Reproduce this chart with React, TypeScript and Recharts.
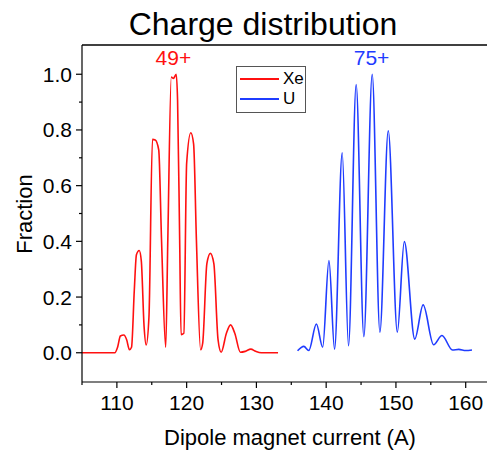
import { Legend, Line, LineChart, ReferenceDot, ReferenceLine, XAxis, YAxis } from "recharts";

const FONT = "Arial, 'Liberation Sans', sans-serif";
const RED = "#ff1010";
const BLUE = "#1f3cff";

// Xe scan
const xeCurrent = [
  105, 109.7, 110.1, 110.5, 111.0, 111.4, 111.8, 112.1, 112.5, 112.8, 113.2, 113.5, 113.9, 114.2,
  114.6, 115.1, 115.5, 116.0, 116.4, 117.0, 117.3, 117.8, 118.1, 118.5, 118.7, 119.0, 119.2, 119.6,
  120.0, 120.6, 121.0, 121.4, 122.0, 122.3, 122.9, 123.4, 123.9, 124.5, 124.95, 125.7, 126.3, 126.9,
  127.7, 128.4, 129.2, 129.9, 130.7, 133.1,
];
const xeFraction = [
  0, 0, 0.02, 0.06, 0.064, 0.047, 0.011, 0.02, 0.226, 0.352, 0.367, 0.33, 0.094, 0.028,
  0.13, 0.766, 0.764, 0.728, 0.405, 0.02, 0.405, 0.99, 0.985, 1.0, 0.906, 0.405, 0.065, 0.07,
  0.68, 0.79, 0.749, 0.405, 0.011, 0.035, 0.32, 0.357, 0.32, 0.047, 0.002, 0.07, 0.1, 0.07,
  0.002, 0.005, 0.013, 0.005, 0, 0,
];

// U scan
const uCurrent = [
  135.9, 136.8, 137.5, 138.6, 139.5, 140.4, 141.2, 142.3, 143.2, 144.3, 145.4, 146.6, 147.7, 148.9,
  150.2, 151.2, 152.7, 153.9, 155.4, 156.6, 158.1, 159.0, 160.0, 160.9,
];
const uFraction = [
  0.007, 0.023, 0.008, 0.103, 0.02, 0.331, 0.013, 0.718, 0.025, 0.963, 0.058, 1.0, 0.074, 0.797,
  0.074, 0.399, 0.049, 0.172, 0.029, 0.062, 0.01, 0.012, 0.008, 0.01,
];

const xTicks = [105, 110, 115, 120, 125, 130, 135, 140, 145, 150, 155, 160];
const yTicks = [0, 0.1, 0.2, 0.3, 0.4, 0.5, 0.6, 0.7, 0.8, 0.9, 1.0];
const legendOrder = ["Xe", "U"];

const xeData = xeCurrent.map((c, i) => ({ current: c, fraction: xeFraction[i] }));
const uData = uCurrent.map((c, i) => ({ current: c, fraction: uFraction[i] }));

const X_GAP = 13;
const Y_GAP = 10;

function XTick(props: any) {
  const { x, y, payload } = props;
  const v = payload.value as number;
  const major = v % 10 === 0;
  return (
    <g>
      <line x1={x} x2={x} y1={y - X_GAP} y2={y - X_GAP + (major ? 6 : 3)} stroke="#000" strokeWidth={1.2} />
      {major && (
        <text x={x} y={y} dy="0.71em" textAnchor="middle" fontSize={21} fontFamily={FONT} fill="#000">
          {v}
        </text>
      )}
    </g>
  );
}

function YTick(props: any) {
  const { x, y, payload } = props;
  const v = payload.value as number;
  const major = Math.round(v * 10) % 2 === 0;
  return (
    <g>
      <line x1={x + Y_GAP - (major ? 6 : 3)} x2={x + Y_GAP} y1={y} y2={y} stroke="#000" strokeWidth={1.2} />
      {major && (
        <text x={x} y={y} dy="0.355em" textAnchor="end" fontSize={21} fontFamily={FONT} fill="#000">
          {v.toFixed(1)}
        </text>
      )}
    </g>
  );
}

function LegendBox(props: any) {
  const items = [...(props.payload || [])].sort(
    (a: any, b: any) => legendOrder.indexOf(a.value) - legendOrder.indexOf(b.value)
  );
  return (
    <div
      style={{
        border: "1px solid #555",
        background: "#fff",
        width: 68,
        height: 43,
        boxSizing: "content-box",
        fontFamily: FONT,
        fontSize: 17,
        paddingTop: 2,
      }}
    >
      {items.map((it: any) => (
        <div key={it.value} style={{ display: "flex", alignItems: "center", height: 20 }}>
          <svg width={46} height={20}>
            <line x1={3} x2={42} y1={10} y2={10} stroke={it.color} strokeWidth={2} />
          </svg>
          <span>{it.value}</span>
        </div>
      ))}
    </div>
  );
}

export default function App() {
  return (
    <div style={{ position: "relative", width: 487, height: 442, fontFamily: FONT }}>
      <div
        style={{
          position: "absolute",
          left: 255,
          top: 0,
          transform: "translateX(-50%)",
          fontSize: 32,
          lineHeight: 1,
          whiteSpace: "nowrap",
        }}
      >
        Charge distribution
      </div>
      <LineChart width={487} height={442} margin={{ top: 37, right: 0, bottom: 38, left: 0 }}>
        <XAxis
          type="number"
          dataKey="current"
          domain={[105, 164.2]}
          ticks={xTicks}
          interval={0}
          allowDataOverflow
          height={30}
          tickSize={0}
          tickMargin={X_GAP}
          tickLine={false}
          axisLine={{ stroke: "#000", strokeWidth: 1.2 }}
          tick={<XTick />}
        />
        <YAxis
          type="number"
          domain={[-0.105, 1.105]}
          ticks={yTicks}
          interval={0}
          allowDataOverflow
          width={74}
          tickSize={0}
          tickMargin={Y_GAP}
          tickLine={false}
          axisLine={{ stroke: "#000", strokeWidth: 1.2 }}
          tick={<YTick />}
        />
        <ReferenceLine y={1.105} stroke="#000" strokeWidth={1.5} />
        <Legend
          layout="vertical"
          align="center"
          verticalAlign="middle"
          content={<LegendBox />}
          wrapperStyle={{ left: 228, top: 58, width: 70, height: 45 }}
        />
        <Line
          data={xeData}
          dataKey="fraction"
          name="Xe"
          type="monotone"
          stroke={RED}
          strokeWidth={1.6}
          dot={false}
          isAnimationActive={false}
        />
        <Line
          data={uData}
          dataKey="fraction"
          name="U"
          type="monotone"
          stroke={BLUE}
          strokeWidth={1.6}
          dot={false}
          isAnimationActive={false}
        />
        <ReferenceDot
          x={118.1}
          y={1.059}
          r={0}
          label={{ value: "49+", position: "center", fill: RED, fontSize: 21, fontFamily: FONT }}
        />
        <ReferenceDot
          x={146.5}
          y={1.059}
          r={0}
          label={{ value: "75+", position: "center", fill: BLUE, fontSize: 21, fontFamily: FONT }}
        />
      </LineChart>
      <div
        style={{
          position: "absolute",
          left: 17,
          top: 206,
          transform: "translate(-50%, -50%) rotate(-90deg)",
          fontSize: 22,
          lineHeight: 1,
          whiteSpace: "nowrap",
        }}
      >
        Fraction
      </div>
      <div
        style={{
          position: "absolute",
          left: 282,
          top: 419,
          transform: "translateX(-50%)",
          fontSize: 22,
          lineHeight: 1,
          whiteSpace: "nowrap",
        }}
      >
        Dipole magnet current (A)
      </div>
    </div>
  );
}
